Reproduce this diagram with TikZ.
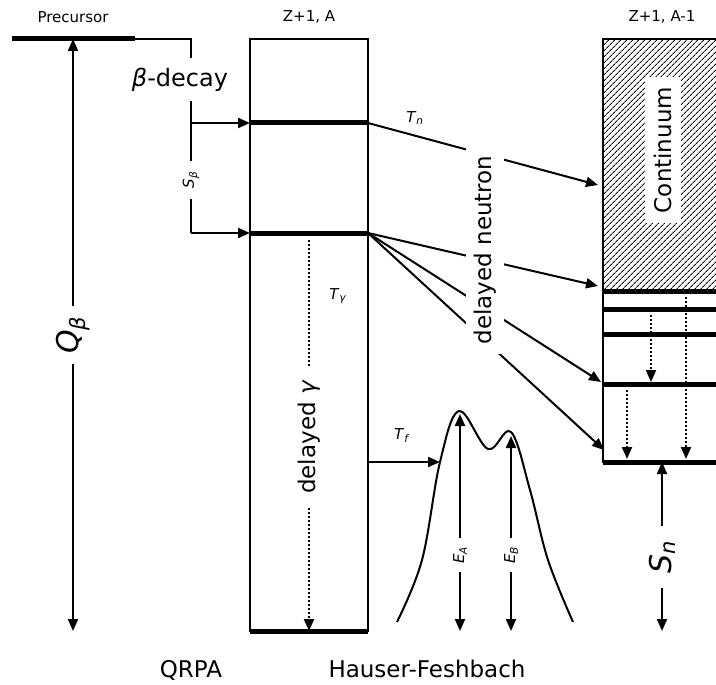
\documentclass[tikz,border=0pt]{standalone}
\usepackage{fontspec}
\setmainfont{DejaVu Sans}
\usetikzlibrary{arrows.meta,positioning,patterns.meta}
\tikzset{
  >={Triangle[length=12pt,width=10pt]},
  ln/.style={line width=2pt},
  lvl/.style={line width=5pt},
  arr/.style={->,line width=2pt},
  darr/.style={<->,line width=2pt},
  dotarr/.style={->,line width=2pt,dotted},
  small/.style={font=\fontsize{15}{17}\selectfont},
  med/.style={font=\fontsize{23}{27}\selectfont},
  gap/.style={fill=white,inner sep=0pt,rotate=90},
}
\newcommand{\vi}[1]{\textit{#1}}

\begin{document}
\begin{tikzpicture}[x=1pt,y=-1pt]
\useasboundingbox (0,0) rectangle (716,685);

% headings
\node[small] (hprec) at (73,17) {Precursor};
\node[small] (hmid) at (309,17) {Z+1, A};
\node[small] (hright) at (662,17) {Z+1, A-1};

% precursor level and beta decay bracket
\coordinate (p0) at (12,39); \coordinate (p1) at (135,39);
\coordinate (b0) at (191,39); \coordinate (b1) at (191,123); \coordinate (b2) at (191,233);
\draw[lvl] (p0) -- (p1);
\draw[ln] (p1) -- (b0) -- (b2);
\node[med,fill=white,minimum height=43pt,inner sep=2pt,font=\fontsize{24}{28}\selectfont] (bdec) at (180,80) {\vi{β}-decay};
\node[small,gap,minimum width=37pt] (sbeta) at (191,180) {\vi{S}\textsubscript{\vi{β}}};

% Q beta
\coordinate (qtop) at (73,39); \coordinate (qbot) at (73,631);
\draw[darr] (qtop) -- (qbot) node[gap,minimum width=58pt,font=\fontsize{30}{34}\selectfont] (qb) at (73,335) {\vi{Q}\textsubscript{\vi{β}}};

% compound nucleus box
\coordinate (m0) at (250,39); \coordinate (m1) at (368,631);
\draw[ln] (m0) rectangle (m1);
\foreach \y/\n in {123/e1,233/e2}{
  \coordinate (\n l) at (250,\y); \coordinate (\n r) at (368,\y);
  \draw[lvl] (\n l) -- (\n r);}
\draw[lvl] (250,631) -- (368,631);
\draw[arr] (b1) -- (e1l);
\draw[arr] (b2) -- (e2l);

% gamma
\coordinate (g0) at (309,240); \coordinate (g1) at (309,631);
\draw[dotarr] (g0) -- (g1);
\node[med,gap,minimum width=139pt] (dg) at (309,437) {delayed \vi{γ}};
\node[small] (tg) at (338,296) {\vi{T}\textsubscript{\vi{γ}}};

% residual nucleus
\fill[pattern={Lines[angle=45,distance=4pt,line width=0.9pt]}] (603,39) rectangle (716,291);
\draw[ln] (716,39) -- (603,39) -- (603,462) -- (716,462);
\foreach \y/\n in {291/r1,309/r2,334/r3,384/r4,462/r5}{
  \coordinate (\n) at (603,\y);
  \draw[lvl] (\n) -- (716,\y);}
\node[med,gap,minimum width=145pt,minimum height=36pt] (cont) at (663,150) {Continuum};
\foreach \x/\a/\b in {651/315/382,686/297/459,627/390/459}{
  \coordinate (d\x a) at (\x,\a); \coordinate (d\x b) at (\x,\b);
  \draw[dotarr] (d\x a) -- (d\x b);}

% neutron emission
\coordinate (n1) at (598,185); \coordinate (n2) at (598,286);
\coordinate (n3) at (601,382); \coordinate (n4) at (604,450);
\draw[arr] (e1r) -- (n1);
\foreach \n in {n2,n3,n4}{ \draw[arr] (e2r) -- (\n); }
\node[med,gap,minimum width=208pt,minimum height=38pt] (dn) at (485,250) {delayed neutron};
\node[small] (tn) at (415,118) {\vi{T}\textsubscript{\vi{n}}};

% S_n
\coordinate (s0) at (662,462); \coordinate (s1) at (662,631);
\draw[darr] (s0) -- (s1) node[gap,minimum width=62pt,font=\fontsize{30}{34}\selectfont] (sn) at (662,557) {\vi{S}\textsubscript{\vi{n}}};

% fission barrier
\draw[ln] plot[smooth,tension=0.6] coordinates {(397,622) (422,560) (440,462) (459,411) (488,449) (511,432) (530,490) (548,560) (573,622)};
\coordinate (f0) at (368,462); \coordinate (f1) at (440,462);
\draw[arr] (f0) -- (f1);
\node[small] (tf) at (402,436) {\vi{T}\textsubscript{\vi{f}}};
\coordinate (ea0) at (460,414); \coordinate (ea1) at (460,631);
\coordinate (eb0) at (511,436); \coordinate (eb1) at (511,631);
\draw[darr] (ea0) -- (ea1);
\draw[darr] (eb0) -- (eb1);
\node[small,gap,minimum width=34pt] (ea) at (460,555) {\vi{E}\textsubscript{\vi{A}}};
\node[small,gap,minimum width=34pt] (eb) at (511,555) {\vi{E}\textsubscript{\vi{B}}};

% bottom labels
\node[med,anchor=base,inner sep=0pt] (qrpa) at (191,677) {QRPA};
\node[med,anchor=base,inner sep=0pt] (hf) at (427,677) {Hauser-Feshbach};
\end{tikzpicture}
\end{document}
